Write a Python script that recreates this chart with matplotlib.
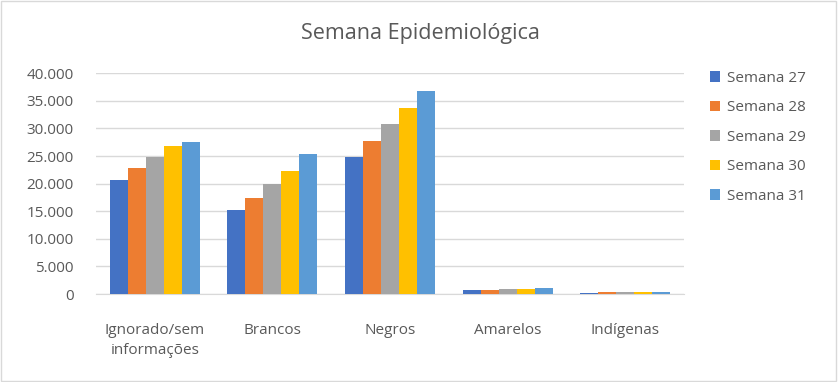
import numpy as np
import matplotlib.pyplot as plt
from matplotlib.ticker import FuncFormatter

categorias = ["Ignorado/sem\ninformações", "Brancos", "Negros", "Amarelos", "Indígenas"]
semanas = ["Semana 27", "Semana 28", "Semana 29", "Semana 30", "Semana 31"]
sem27 = [20650, 15200, 24800, 720, 200]
sem28 = [22850, 17400, 27750, 730, 360]
sem29 = [24900, 19950, 30800, 900, 370]
sem30 = [26800, 22300, 33700, 910, 380]
sem31 = [27550, 25350, 36800, 1090, 390]
cores = ["#4472C4", "#ED7D31", "#A5A5A5", "#FFC000", "#5B9BD5"]

plt.rcParams['font.family'] = ['Open Sans', 'DejaVu Sans']
fig = plt.figure(figsize=(8.38, 3.82), dpi=100)
ax = fig.add_axes([96 / 838, 1 - 294 / 382, (684 - 96) / 838, (294 - 73.3) / 382])

x = np.arange(len(categorias))
w = 0.153
for i, vals in enumerate([sem27, sem28, sem29, sem30, sem31]):
    ax.bar(x + (i - 2) * w, vals, w, color=cores[i], label=semanas[i], zorder=3)

ax.set_xlim(-0.5, 4.5)
ax.set_ylim(0, 40000)
ax.set_yticks(range(0, 40001, 5000))
ax.yaxis.set_major_formatter(FuncFormatter(lambda v, p: f"{int(v):,}".replace(",", ".")))
ax.set_xticks(x)
ax.set_xticklabels(categorias, fontsize=11, color="#595959", linespacing=1.45)
ax.tick_params(axis="y", labelsize=11, labelcolor="#595959", length=0, pad=16)
ax.tick_params(axis="x", length=0, pad=21)
ax.grid(axis="y", color="#D9D9D9", linewidth=1, zorder=0)
for s in ["top", "right", "left"]:
    ax.spines[s].set_visible(False)
ax.spines["bottom"].set_color("#D9D9D9")

fig.text(420 / 838, 1 - 34 / 382, "Semana Epidemiológica", ha="center", va="center",
         fontsize=15.5, color="#595959")

leg = fig.legend(loc="upper left", bbox_to_anchor=(696 / 838, 1 - 57 / 382), frameon=False,
                 fontsize=11, labelcolor="#595959", handlelength=0.7, handleheight=0.7,
                 labelspacing=0.95, handletextpad=0.45)

fig.patches.append(plt.Rectangle((0.001, 0.002), 0.997, 0.995, transform=fig.transFigure,
                                 fill=False, edgecolor="#D9D9D9", linewidth=1))
fig.savefig("out.png", dpi=100)
